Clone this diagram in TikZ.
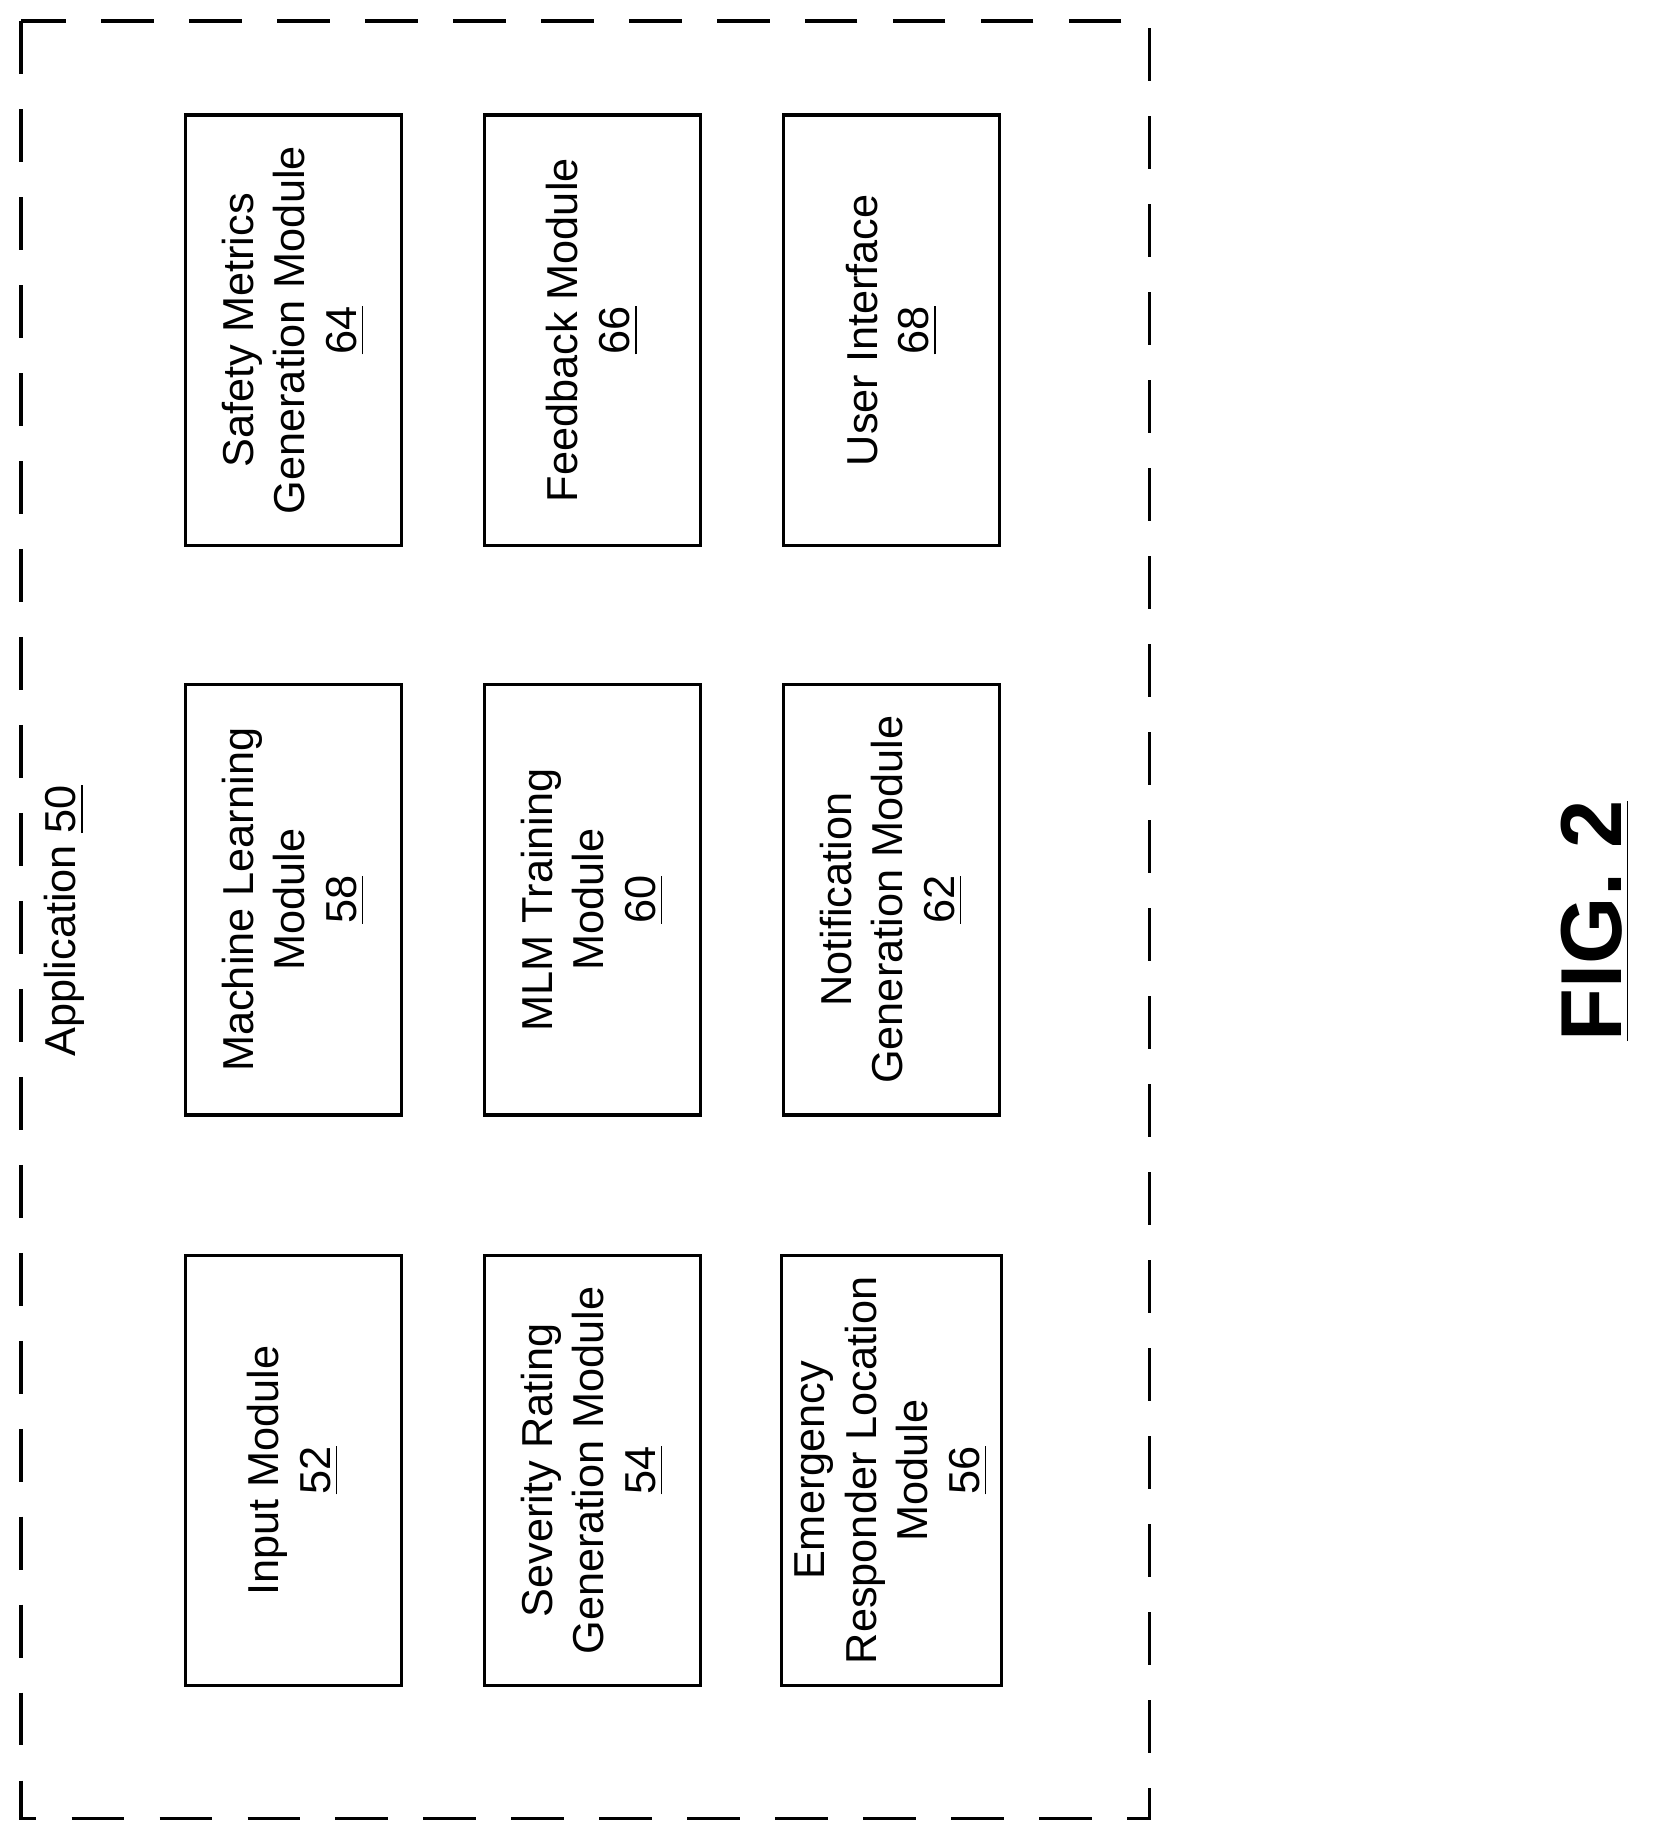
\documentclass[tikz,border=0pt]{standalone}
\usepackage{fontspec}
\setmainfont{Liberation Sans}
\usepackage{tikz}
\tikzset{
  module/.style={rectangle,draw,thick,rotate=90,align=center,
    minimum width=36.7mm,minimum height=18.4mm,
    font=\fontsize{10.5}{12.5}\selectfont},
}
\begin{document}
\begin{tikzpicture}
\useasboundingbox (0,0) rectangle (14.1,-15.72);
\draw[thick,dash pattern=on 4.5mm off 3mm] (0.18,-0.18) rectangle (9.8,-15.5);
\node [rotate=90,font=\fontsize{10.5}{12.5}\selectfont] (app) at (0.55,-7.85) {Application \underline{50}};
% first row
\node [module] (m64) at (2.50,-2.815) {Safety Metrics\\Generation Module\\\underline{64}};
\node [module] (m66) at (5.05,-2.815) {Feedback Module\\\underline{66}};
\node [module] (m68) at (7.60,-2.815) {User Interface\\\underline{68}};
% second row
\node [module] (m58) at (2.50,-7.67) {Machine Learning\\Module\\\underline{58}};
\node [module] (m60) at (5.05,-7.67) {MLM Training\\Module\\\underline{60}};
\node [module] (m62) at (7.60,-7.67) {Notification\\Generation Module\\\underline{62}};
% third row
\node [module] (m52) at (2.50,-12.535) {Input Module\\\underline{52}};
\node [module] (m54) at (5.05,-12.535) {Severity Rating\\Generation Module\\\underline{54}};
\node [module] (m56) at (7.60,-12.535) {Emergency\\Responder Location\\Module\\\underline{56}};
\node [rotate=90,font=\fontsize{21}{24}\selectfont\bfseries] (fig) at (13.6,-7.85) {\underline{FIG. 2}};
\end{tikzpicture}
\end{document}
